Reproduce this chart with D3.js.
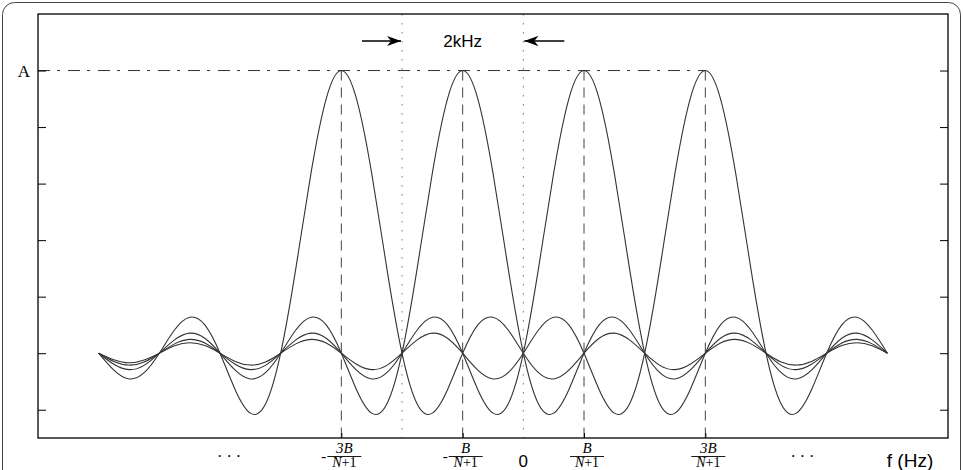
<!DOCTYPE html>
<html>

<head>
    <script src="https://d3js.org/d3.v7.min.js"></script>
    <style>
        body {
            margin: 0;
            background: #fff;
        }
    </style>
</head>

<body>
    <div id="chart"></div>

    <script>
        // pulse centres (in units of B/(N+1))
        var centers = [-3, -1, 1, 3];
        var tickLabels = [
            { at: -3, sign: "-", num: "3B" },
            { at: -1, sign: "-", num: "B" },
            { at: 1, sign: "", num: "B" },
            { at: 3, sign: "", num: "3B" }
        ];
        // shape of one lobe at offsets 0, 0.25, 0.5 ... 10
        var profile = [
            1, 0.90, 0.637, 0.30, 0,
            -0.18, -0.212, -0.129, 0,
            0.10, 0.127, 0.082, 0,
            -0.069, -0.091, -0.060, 0,
            0.053, 0.071, 0.047, 0,
            -0.043, -0.058, -0.039, 0,
            0.036, 0.049, 0.033, 0,
            -0.031, -0.042, -0.029, 0,
            0.027, 0.037, 0.026, 0,
            -0.024, -0.034, -0.023, 0
        ];
        var profileStep = 0.25;
        var curveRange = [-7, 6];
        var yTicks = [-0.2, 0, 0.2, 0.4, 0.6, 0.8, 1];
        var dottedAt = [-2, 0];
        var ellipsisAt = [-4.85, 4.6];

        var width = 963,
            height = 470;

        var svg = d3.select("#chart")
            .append("svg")
            .attr("width", width)
            .attr("height", height)
            .style("display", "block");

        // outer frame
        svg.append("rect")
            .attr("x", 2.5).attr("y", 2.5)
            .attr("width", 958).attr("height", 500)
            .attr("rx", 12)
            .attr("fill", "none")
            .attr("stroke", "#444");

        var x = d3.scaleLinear().domain([-8, 7]).range([38, 948]);
        var y = d3.scaleLinear().domain([-0.3, 1.2]).range([438, 14]);

        // build each curve by shifting the profile to its centre
        function curvePoints(c) {
            var pts = [];
            var n = Math.round((curveRange[1] - curveRange[0]) / profileStep);
            for (var i = 0; i <= n; i++) {
                var u = curveRange[0] + i * profileStep;
                var k = Math.round(Math.abs(u - c) / profileStep);
                pts.push([u, profile[k]]);
            }
            return pts;
        }

        var line = d3.line()
            .x(function(d) { return x(d[0]); })
            .y(function(d) { return y(d[1]); })
            .curve(d3.curveNatural);

        // dotted guides
        svg.selectAll(".dot-guide")
            .data(dottedAt)
            .enter().append("line")
            .attr("x1", function(d) { return x(d); })
            .attr("x2", function(d) { return x(d); })
            .attr("y1", y(1.2))
            .attr("y2", y(-0.3))
            .attr("stroke", "#777")
            .attr("stroke-width", 1)
            .attr("stroke-dasharray", "1.5,7.5");

        // dash-dot level line at A
        svg.append("line")
            .attr("x1", x(-8)).attr("x2", x(3))
            .attr("y1", y(1)).attr("y2", y(1))
            .attr("stroke", "#333")
            .attr("stroke-dasharray", "12,7,3,8");

        // dashed drops from each peak
        svg.selectAll(".peak-drop")
            .data(centers)
            .enter().append("line")
            .attr("x1", function(d) { return x(d); })
            .attr("x2", function(d) { return x(d); })
            .attr("y1", y(1))
            .attr("y2", y(-0.3))
            .attr("stroke", "#444")
            .attr("stroke-dasharray", "10,7");

        svg.selectAll(".pulse")
            .data(centers)
            .enter().append("path")
            .attr("d", function(d) { return line(curvePoints(d)); })
            .attr("fill", "none")
            .attr("stroke", "#333")
            .attr("stroke-width", 1.1);

        // axes box with inward ticks
        svg.append("g")
            .attr("transform", "translate(" + x(-8) + ",0)")
            .call(d3.axisRight(y).tickValues(yTicks).tickSize(8).tickFormat(""))
            .call(function(g) { g.select(".domain").remove(); });
        svg.append("g")
            .attr("transform", "translate(" + x(7) + ",0)")
            .call(d3.axisLeft(y).tickValues(yTicks).tickSize(8).tickFormat(""))
            .call(function(g) { g.select(".domain").remove(); });
        svg.append("g")
            .attr("transform", "translate(0," + y(-0.3) + ")")
            .call(d3.axisTop(x).tickValues(centers).tickSize(5).tickFormat(""))
            .call(function(g) { g.select(".domain").remove(); });

        svg.append("rect")
            .attr("x", x(-8)).attr("y", y(1.2))
            .attr("width", x(7) - x(-8))
            .attr("height", y(-0.3) - y(1.2))
            .attr("fill", "none")
            .attr("stroke", "#000")
            .attr("stroke-width", 1.3);

        svg.append("text")
            .attr("x", 24).attr("y", y(1) + 6)
            .attr("text-anchor", "middle")
            .style("font-family", "'Liberation Serif', serif")
            .style("font-size", "17px")
            .text("A");

        // 2kHz marker with arrows
        var defs = svg.append("defs");
        defs.append("marker")
            .attr("id", "head")
            .attr("viewBox", "0 0 14 10")
            .attr("refX", 14).attr("refY", 5)
            .attr("markerWidth", 14).attr("markerHeight", 10)
            .attr("markerUnits", "userSpaceOnUse")
            .attr("orient", "auto")
            .append("path")
            .attr("d", "M0,0 L14,5 L0,10 L4,5 Z")
            .attr("fill", "#000");

        var arrowY = 41;
        svg.append("line")
            .attr("x1", x(-2) - 40).attr("x2", x(-2) - 1)
            .attr("y1", arrowY).attr("y2", arrowY)
            .attr("stroke", "#000").attr("stroke-width", 1.3)
            .attr("marker-end", "url(#head)");
        svg.append("line")
            .attr("x1", x(0) + 41).attr("x2", x(0) + 1)
            .attr("y1", arrowY).attr("y2", arrowY)
            .attr("stroke", "#000").attr("stroke-width", 1.3)
            .attr("marker-end", "url(#head)");
        svg.append("text")
            .attr("x", x(-1)).attr("y", arrowY + 6)
            .attr("text-anchor", "middle")
            .style("font-family", "'Liberation Sans', Arial, sans-serif")
            .style("font-size", "17px")
            .text("2kHz");

        // bottom labels
        var labels = svg.append("g")
            .style("font-family", "'Liberation Serif', serif");

        var frac = labels.selectAll(".frac")
            .data(tickLabels)
            .enter().append("g")
            .attr("transform", function(d) { return "translate(" + (x(d.at) + 3) + ",0)"; });
        frac.append("text")
            .attr("y", 453)
            .attr("text-anchor", "middle")
            .style("font-style", "italic")
            .style("font-size", "15px")
            .text(function(d) { return d.num; });
        frac.append("line")
            .attr("x1", -17).attr("x2", 17)
            .attr("y1", 456.5).attr("y2", 456.5)
            .attr("stroke", "#000").attr("stroke-width", 0.9);
        frac.append("text")
            .attr("y", 467)
            .attr("text-anchor", "middle")
            .style("font-size", "14px")
            .html(function() { return "<tspan font-style='italic'>N</tspan>+1"; });
        frac.append("text")
            .attr("x", -18).attr("y", 461)
            .attr("text-anchor", "end")
            .style("font-size", "15px")
            .text(function(d) { return d.sign; });

        labels.selectAll(".ell")
            .data(ellipsisAt)
            .enter().append("text")
            .attr("x", function(d) { return x(d); })
            .attr("y", 462)
            .attr("text-anchor", "middle")
            .style("font-size", "16px")
            .text("· · ·");

        svg.append("text")
            .attr("x", x(0)).attr("y", 467)
            .attr("text-anchor", "middle")
            .style("font-family", "'Liberation Sans', Arial, sans-serif")
            .style("font-size", "17px")
            .text("0");

        svg.append("text")
            .attr("x", 910).attr("y", 467)
            .attr("text-anchor", "middle")
            .style("font-family", "'Liberation Sans', Arial, sans-serif")
            .style("font-size", "19px")
            .text("f (Hz)");
    </script>

</body>

</html>
